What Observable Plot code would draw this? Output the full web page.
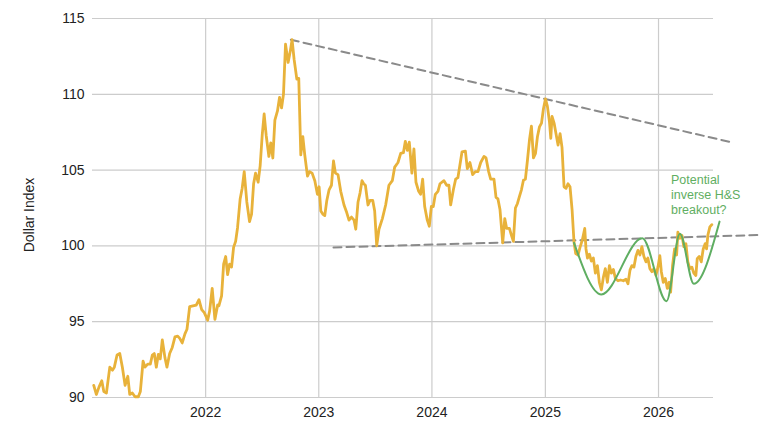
<!DOCTYPE html>
<html>
<head>
<meta charset="utf-8">
<script src="https://cdn.jsdelivr.net/npm/d3@7"></script>
<script src="https://cdn.jsdelivr.net/npm/@observablehq/plot@0.6"></script>
<style>
  html, body { margin: 0; padding: 0; background: #ffffff; }
  #chart { width: 773px; height: 425px; }
</style>
</head>
<body>
<div id="chart"></div>
<script>
// Dollar index, time in decimal years
const years = [
  2021.011,2021.034,2021.058,2021.082,2021.100,2021.123,2021.153,2021.176,2021.193,2021.217,
  2021.241,2021.264,2021.288,2021.312,2021.329,2021.352,2021.376,2021.405,2021.423,2021.447,
  2021.464,2021.488,2021.511,2021.529,2021.546,2021.564,2021.582,2021.599,2021.617,2021.641,
  2021.658,2021.682,2021.705,2021.729,2021.753,2021.771,2021.793,2021.817,2021.835,2021.859,
  2021.888,2021.917,2021.941,2021.965,2021.988,2022.018,2022.035,2022.058,2022.082,2022.106,
  2022.117,2022.141,2022.159,2022.177,2022.194,2022.212,2022.229,2022.247,2022.265,2022.282,
  2022.305,2022.323,2022.341,2022.364,2022.388,2022.406,2022.424,2022.441,2022.464,2022.482,
  2022.500,2022.517,2022.535,2022.559,2022.576,2022.594,2022.612,2022.635,2022.653,2022.671,
  2022.688,2022.706,2022.729,2022.747,2022.764,2022.782,2022.806,2022.823,2022.841,2022.859,
  2022.876,2022.900,2022.918,2022.941,2022.965,2022.988,2023.003,2023.018,2023.035,2023.053,
  2023.071,2023.091,2023.112,2023.130,2023.147,2023.170,2023.194,2023.223,2023.247,2023.267,
  2023.289,2023.312,2023.327,2023.347,2023.365,2023.382,2023.397,2023.412,2023.435,2023.453,
  2023.477,2023.494,2023.512,2023.532,2023.562,2023.591,2023.620,2023.650,2023.671,2023.700,
  2023.724,2023.748,2023.765,2023.783,2023.800,2023.823,2023.841,2023.859,2023.883,2023.900,
  2023.918,2023.936,2023.959,2023.977,2023.995,2024.012,2024.030,2024.053,2024.071,2024.106,
  2024.130,2024.150,2024.165,2024.189,2024.209,2024.229,2024.265,2024.295,2024.312,2024.335,
  2024.359,2024.383,2024.406,2024.430,2024.459,2024.477,2024.500,2024.518,2024.547,2024.565,
  2024.582,2024.600,2024.624,2024.642,2024.659,2024.683,2024.701,2024.718,2024.736,2024.754,
  2024.771,2024.789,2024.807,2024.824,2024.842,2024.860,2024.877,2024.895,2024.913,2024.930,
  2024.948,2024.966,2024.983,2025.001,2025.018,2025.036,2025.048,2025.059,2025.077,2025.094,
  2025.112,2025.130,2025.147,2025.165,2025.183,2025.200,2025.218,2025.236,2025.253,2025.268,
  2025.289,2025.306,2025.327,2025.348,2025.359,2025.372,2025.389,2025.407,2025.424,2025.442,
  2025.460,2025.477,2025.495,2025.513,2025.530,2025.548,2025.566,2025.583,2025.601,2025.619,
  2025.642,2025.665,2025.689,2025.712,2025.730,2025.748,2025.765,2025.783,2025.800,2025.818,
  2025.836,2025.853,2025.871,2025.889,2025.906,2025.924,2025.942,2025.959,2025.977,2025.995,
  2026.012,2026.025,2026.042,2026.060,2026.078,2026.095,2026.107,2026.124,2026.142,2026.160,
  2026.171,2026.189,2026.207,2026.224,2026.242,2026.259,2026.277,2026.295,2026.312,2026.330,
  2026.342,2026.360,2026.378,2026.395,2026.413,2026.425,2026.436,2026.454,2026.471
];
const values = [
  90.8,90.2,90.7,91.1,90.4,90.3,92.0,91.8,92.0,92.8,
  92.9,92.0,90.8,91.4,90.2,90.3,90.05,90.05,90.4,92.4,
  92.0,92.2,92.2,92.8,92.9,92.0,92.85,92.55,93.8,92.6,
  92.0,92.9,93.3,94.0,94.05,93.9,93.6,94.2,94.5,96.0,
  96.05,96.1,96.45,95.8,95.6,95.1,95.7,97.2,95.15,96.1,
  96.05,96.7,98.8,99.3,98.1,98.8,98.6,99.9,100.3,101.2,
  103.1,103.8,104.9,102.9,101.6,102.1,104.1,104.8,104.2,105.3,
  107.3,108.7,107.3,105.9,106.8,105.8,108.3,108.9,109.8,109.1,
  110.0,113.3,112.1,112.8,113.6,112.3,111.0,111.05,106.0,107.2,
  106.0,104.6,104.9,104.8,104.3,103.4,103.9,102.3,102.1,102.0,
  103.0,103.7,104.0,105.6,104.8,104.7,103.6,102.7,102.2,101.7,
  101.9,101.7,101.1,102.9,103.5,104.3,104.1,104.0,102.7,103.0,
  103.0,102.3,100.0,101.1,101.8,102.7,104.0,104.3,105.2,105.5,
  106.1,106.15,106.9,106.3,106.85,104.8,106.4,104.2,103.6,103.4,
  104.4,102.6,101.7,101.3,102.6,102.6,103.4,103.6,104.1,104.3,
  104.0,104.0,102.7,103.7,104.4,104.5,106.2,106.25,105.1,105.5,
  104.7,104.9,104.9,105.5,105.9,105.8,104.9,104.4,104.4,103.2,
  103.1,102.4,100.2,101.8,101.15,101.15,100.7,100.3,102.5,102.8,
  103.25,103.7,104.35,104.4,105.65,107.0,107.9,105.8,106.1,107.2,
  107.85,108.1,109.05,109.7,109.2,108.2,107.1,108.55,108.1,107.4,
  106.65,107.4,106.5,103.9,103.8,104.1,103.9,102.4,100.26,99.5,
  99.4,99.9,100.4,101.15,99.8,99.2,99.45,99.0,99.2,98.2,
  98.7,97.6,97.1,97.95,98.5,97.6,98.7,98.2,98.45,97.85,
  97.7,97.75,97.7,97.8,97.5,98.4,98.7,98.6,99.3,99.7,
  99.4,99.95,99.3,98.95,99.2,98.5,98.3,98.5,98.05,98.6,
  99.35,98.3,97.6,97.85,97.2,97.6,96.95,98.7,99.8,99.4,
  100.9,100.5,100.7,99.95,100.15,98.95,98.5,98.6,98.2,98.05,
  99.15,99.3,98.95,99.8,100.15,99.8,100.7,101.25,101.4
];

// Inverse head & shoulders sketch (extremes)
const hsYears  = [2025.253, 2025.495, 2025.857, 2026.071, 2026.189, 2026.312, 2026.539];
const hsValues = [100.2, 96.8, 100.5, 96.35, 100.8, 97.5, 101.6];

// Trend lines
const upperYears = [2022.753, 2026.663];
const upperValues = [113.6, 106.8];
const lowerYears = [2023.130, 2026.901];
const lowerValues = [99.9, 100.72];

const yearTicks = [2022, 2023, 2024, 2025, 2026];
const valueTicks = [90, 95, 100, 105, 110, 115];
const xDomainYears = [2021.0, 2026.486];
const yDomain = [90, 115];
const yLabel = "Dollar Index";
const annotation = "Potential\ninverse H&S\nbreakout?";
const annotationAt = {year: 2026.11, value: 104.8};

function toDate(y) {
  const yr = Math.floor(y);
  const s = Date.UTC(yr, 0, 1), e = Date.UTC(yr + 1, 0, 1);
  return new Date(s + (y - yr) * (e - s));
}
const zip = (xs, ys) => xs.map((x, i) => ({date: toDate(x), value: ys[i]}));

const series = zip(years, values);
const hs = zip(hsYears, hsValues);
const upper = zip(upperYears, upperValues);
const lower = zip(lowerYears, lowerValues);
const tickDates = yearTicks.map(y => toDate(y));

const gold = "#E8B23A";
const green = "#5FAE62";
const dash = "#8a8a8a";
const grid = "#cccccc";

const chart = Plot.plot({
  width: 773,
  height: 425,
  marginLeft: 92,
  marginRight: 60,
  marginTop: 18,
  marginBottom: 28,
  style: {fontFamily: "'Liberation Sans', Arial, Helvetica, sans-serif", fontSize: "14px", color: "#222", background: "#ffffff", overflow: "visible"},
  x: {type: "utc", domain: xDomainYears.map(toDate)},
  y: {domain: yDomain},
  marks: [
    Plot.gridY(valueTicks, {stroke: grid, strokeOpacity: 1, strokeWidth: 1.2}),
    Plot.gridX(tickDates, {stroke: grid, strokeOpacity: 1, strokeWidth: 1.2}),
    Plot.axisX(tickDates, {tickSize: 0, tickPadding: 10, tickFormat: d3.utcFormat("%Y"), label: null, fontSize: 14}),
    Plot.axisY(valueTicks, {tickSize: 0, tickPadding: 8, label: null, fontSize: 14}),
    Plot.text([yLabel], {frameAnchor: "left", rotate: -90, textAnchor: "middle", lineAnchor: "top", dx: -68, dy: 7, fontSize: 14, fill: "#222"}),
    Plot.line(upper, {x: "date", y: "value", stroke: dash, strokeWidth: 2, strokeDasharray: "8,5"}),
    Plot.line(lower, {x: "date", y: "value", stroke: dash, strokeWidth: 2, strokeDasharray: "8,5"}),
    Plot.line(series, {x: "date", y: "value", stroke: gold, strokeWidth: 2.8, strokeLinejoin: "round"}),
    Plot.line(hs, {x: "date", y: "value", stroke: green, strokeWidth: 2, curve: "monotone-x"}),
    Plot.text([annotation], {x: () => toDate(annotationAt.year), y: () => annotationAt.value, text: d => d, textAnchor: "start", lineAnchor: "top", fill: green, fontSize: 12.5, lineHeight: 1.2})
  ]
});
document.getElementById("chart").appendChild(chart);
</script>
</body>
</html>
